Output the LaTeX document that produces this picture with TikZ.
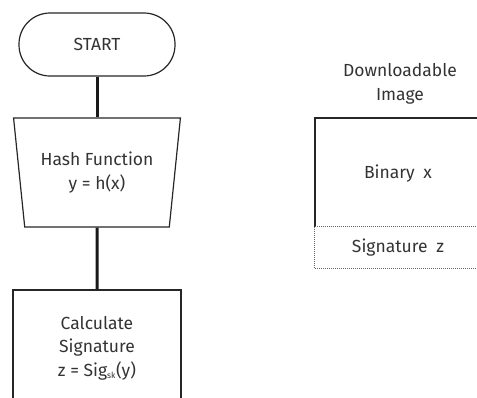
\documentclass[tikz,border=0pt]{standalone}
\usepackage{fontspec}
\setmainfont{Fira Sans}
\usetikzlibrary{shapes.geometric}
\begin{document}
\begin{tikzpicture}[x=1pt,y=-1pt,
  every node/.style={text=black!80, font=\fontsize{17.5}{23.5}\selectfont, align=center, inner sep=0pt},
  box/.style={draw=black!85, line width=1.2pt},
  link/.style={draw=black!90, line width=3pt},
  dotline/.style={draw=black!60, line width=0.8pt, dash pattern=on 0.8pt off 1.2pt}]
\useasboundingbox (0,0) rectangle (477,397);
\clip (0,0) rectangle (477,397);

% flowchart column
\node[box, rectangle, rounded corners=31pt, minimum width=156pt, minimum height=63pt] (start) at (97,44.5) {START};
\node[box, trapezium, shape border rotate=180, trapezium left angle=78, trapezium right angle=78,
      trapezium stretches=true, minimum width=167pt, minimum height=109pt] (hash) at (97,172.5)
      {Hash Function\\ y = h(x)};
\node[box, rectangle, minimum width=168pt, minimum height=116pt] (calc) at (97,348)
      {Calculate\\ Signature\\ z = Sig\textsubscript{\fontsize{8.5}{8.5}\selectfont sk}(y)};
\draw[link] (start) -- (hash);
\draw[link] (hash) -- (calc);

% image layout
\node (title) at (400,84) {Downloadable\\ Image};
\node[minimum width=166pt, minimum height=109pt] (binary) at (398,174) {Binary\enspace x};
\node[minimum width=166pt, minimum height=41pt] (sig) at (398,247.5) {Signature\enspace z};
\draw[box] (315,227) -- (315,118) -- (481,118);
\draw[dotline] (sig.north west) -- (sig.north east);
\draw[dotline] (sig.north west) -- (sig.south west) -- (sig.south east);
\end{tikzpicture}
\end{document}
